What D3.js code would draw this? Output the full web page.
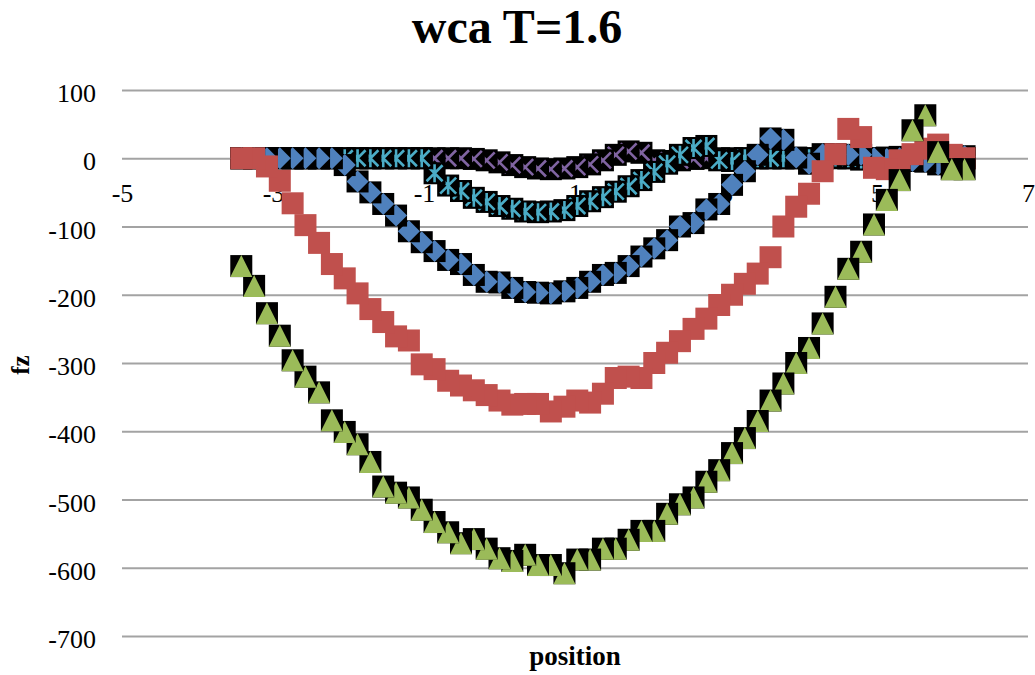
<!DOCTYPE html>
<html><head><meta charset="utf-8">
<script src="https://cdn.jsdelivr.net/npm/d3@7"></script>
<style>
body{margin:0;background:#fff;}
svg{display:block;}
text{font-family:"Liberation Serif","Times New Roman",serif;fill:#000;}
</style></head>
<body><svg id="c" width="1035" height="675"></svg>
<script>
const positions=[-3.42,-3.25,-3.08,-2.91,-2.74,-2.57,-2.39,-2.22,-2.05,-1.88,-1.71,-1.54,-1.37,-1.20,-1.03,-0.86,-0.68,-0.51,-0.34,-0.17,0.00,0.17,0.34,0.51,0.68,0.86,1.03,1.20,1.37,1.54,1.71,1.88,2.05,2.22,2.39,2.57,2.74,2.91,3.08,3.25,3.42,3.59,3.76,3.93,4.10,4.28,4.45,4.62,4.79,4.96,5.13,5.30,5.47,5.64,5.81,5.99,6.16];
const fzPurple=[0,0,0,0,0,0,0,0,0,0,0,0,0,0,0,0,0,0,-1,-3,-6,-10,-13,-15,-16,-15,-13,-9,-3,5,10,8,-3,-4,-3,-1,0,0,0,0,0,0,0,0,0,0,0,0,0,0,0,2,0,0,0,0,0];
const fzCyan=[0,0,0,0,0,0,0,0,0,0,0,0,0,0,0,-22,-40,-48,-58,-64,-70,-74,-78,-79,-78,-76,-70,-63,-57,-49,-41,-32,-20,-8,5,15,18,-3,-4,0,0,0,0,0,0,0,1,0,-2,0,1,0,-1,0,0,0,0];
const fzBlue=[0,0,0,0,0,0,0,0,-10,-34,-50,-67,-84,-107,-123,-136,-149,-155,-171,-181,-182,-190,-196,-197,-198,-195,-190,-181,-171,-168,-158,-144,-132,-120,-100,-95,-75,-67,-39,-19,5,29,27,1,-8,6,6,5,5,0,-1,0,-4,-5,-9,-6,3];
const fzRed=[0,0,-12,-33,-66,-98,-124,-155,-176,-198,-221,-240,-261,-267,-302,-309,-326,-333,-340,-347,-355,-361,-360,-360,-371,-364,-355,-358,-345,-322,-320,-322,-300,-285,-268,-250,-235,-215,-200,-184,-169,-145,-100,-71,-52,-19,6,43,31,-14,-16,-3,6,14,20,5,0];
const fzGreen=[-158,-187,-227,-260,-296,-320,-343,-384,-401,-419,-445,-481,-490,-497,-515,-533,-548,-564,-558,-572,-586,-590,-581,-596,-596,-608,-588,-588,-572,-572,-559,-546,-546,-521,-507,-497,-474,-457,-432,-410,-385,-355,-330,-300,-278,-242,-203,-162,-137,-97,-61,-32,41,63,9,-16,-16];
const xTicks=[-5,-3,-1,1,3,5,7];
const yTicks=[100,0,-100,-200,-300,-400,-500,-600,-700];
const titleText="wca T=1.6", xTitle="position", yTitle="fz";

const svg=d3.select("#c");
svg.append("rect").attr("width",1035).attr("height",675).attr("fill","#fff");
const L=122,R=1028,T=90,B=636;
const x=d3.scaleLinear().domain([-5,7]).range([L,R]);
const y=d3.scaleLinear().domain([-700,100]).range([B,T]);
const fmt=d=>String(d);

// gridlines + y labels
const ya=svg.append("g").attr("transform",`translate(${L},0)`)
  .call(d3.axisLeft(y).tickValues(yTicks).tickSize(-(R-L)).tickPadding(26).tickFormat(fmt));
ya.select(".domain").remove();
ya.selectAll("line").attr("stroke","#a3a3a3").attr("stroke-width",2);
ya.selectAll("text").attr("font-size",26).attr("dy","0.45em").attr("font-family","Liberation Serif");

// x labels at the zero line
const xa=svg.append("g").attr("transform",`translate(0,${y(0)})`)
  .call(d3.axisBottom(x).tickValues(xTicks).tickSize(0).tickPadding(25).tickFormat(fmt));
xa.select(".domain").remove();
xa.selectAll("text").attr("font-size",26).attr("font-family","Liberation Serif");

const S=11;
function drawSeries(vals,kind,color){
  const pts=positions.map((p,i)=>({x:p,y:vals[i]})).reverse();
  const g=svg.append("g").selectAll("g").data(pts).join("g")
    .attr("transform",d=>`translate(${x(d.x)},${y(d.y)})`);
  if(kind==="square"){
    g.append("rect").attr("x",-S).attr("y",-S).attr("width",2*S).attr("height",2*S).attr("fill",color);
    return;
  }
  g.append("rect").attr("x",-S).attr("y",-S).attr("width",2*S).attr("height",2*S).attr("fill","#000");
  if(kind==="diamond"){
    g.append("path").attr("d",`M0,${-S}L${S},0L0,${S}L${-S},0Z`).attr("fill",color);
  } else if(kind==="triangle"){
    g.append("path").attr("d",`M0,${-S}L${S},${S}L${-S},${S}Z`).attr("fill",color);
  } else if(kind==="x"||kind==="star"){
    const a=8;
    g.append("path").attr("d",`M${-a},${-a}L${a},${a}M${a},${-a}L${-a},${a}`+(kind==="star"?`M0,${-9}L0,9`:""))
      .attr("stroke",color).attr("stroke-width",2.6).attr("fill","none");
  }
}
drawSeries(fzPurple,"x","#8064A2");
drawSeries(fzCyan,"star","#4BACC6");
drawSeries(fzBlue,"diamond","#4F81BD");
drawSeries(fzRed,"square","#C0504D");
drawSeries(fzGreen,"triangle","#9BBB59");

svg.append("text").attr("x",517).attr("y",43).attr("text-anchor","middle")
  .attr("font-size",48).attr("font-weight","bold").text(titleText);
svg.append("text").attr("x",575).attr("y",665).attr("text-anchor","middle")
  .attr("font-size",27).attr("font-weight","bold").text(xTitle);
svg.append("text").attr("transform","translate(29,365) rotate(-90)").attr("text-anchor","middle")
  .attr("font-size",25).attr("font-weight","bold").text(yTitle);
</script></body></html>
